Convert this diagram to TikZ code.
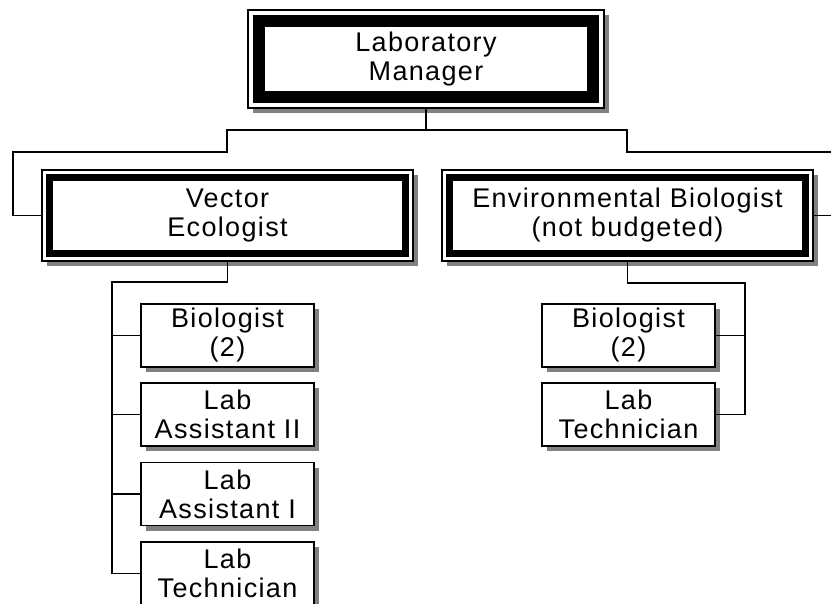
\documentclass[tikz,border=0pt]{standalone}
\usepackage{fontspec}
\setmainfont{Liberation Sans}[LetterSpace=5]
\usetikzlibrary{shadows}

\begin{document}
\begin{tikzpicture}[x=1pt, y=-1pt, line width=1.3pt,
    post/.style={draw, fill=white, align=center, inner sep=0pt,
        font=\fontsize{27}{29}\selectfont,
        drop shadow={shadow xshift=5pt, shadow yshift=-5pt, fill=gray, opacity=1}},
    chief/.style={post, line width=1.8pt, minimum width=#1, minimum height=91pt},
    staff/.style={post, minimum width=173pt, minimum height=63pt}]
    \useasboundingbox (0,0) rectangle (831,604);

    \node[chief=356pt, minimum height=98pt] (mgr) at (426,59) {Laboratory\\Manager};
    \node[chief=371pt] (vec) at (227.5,215.5) {Vector\\Ecologist};
    \node[chief=371pt] (env) at (627.5,215.5) {Environmental Biologist\\(not budgeted)};

    \foreach \n/\d/\w in {mgr/12/12, vec/8.5/7, env/8.5/7}
        \draw[line width=\w pt] ([shift={(\d pt,-\d pt)}]\n.north west) rectangle ([shift={(-\d pt,\d pt)}]\n.south east);

    \node[staff] (lbio) at (227.5,335.5) {Biologist\\(2)};
    \node[staff] (lasst2) at (227.5,414.5) {Lab\\Assistant II};
    \node[staff] (lasst1) at (227.5,494) {Lab\\Assistant I};
    \node[staff] (ltech) at (227.5,573.5) {Lab\\Technician};

    \node[staff] (rbio) at (628.5,335.5) {Biologist\\(2)};
    \node[staff] (rtech) at (628.5,414.5) {Lab\\Technician};

    \draw (mgr.south) |- (227,130) |- (13,152) |- (vec.west);
    \draw (mgr.south) |- (627,130) |- (840,152) |- (env.east);

    \draw (vec.south) |- (112,282) |- (ltech.west);
    \foreach \n in {lbio, lasst2, lasst1}
        \draw (112,0 |- \n.west) -- (\n.west);

    \draw (env.south) |- (745,283) |- (rtech.east);
    \draw (rbio.east) -- (745,0 |- rbio.east);
\end{tikzpicture}
\end{document}
